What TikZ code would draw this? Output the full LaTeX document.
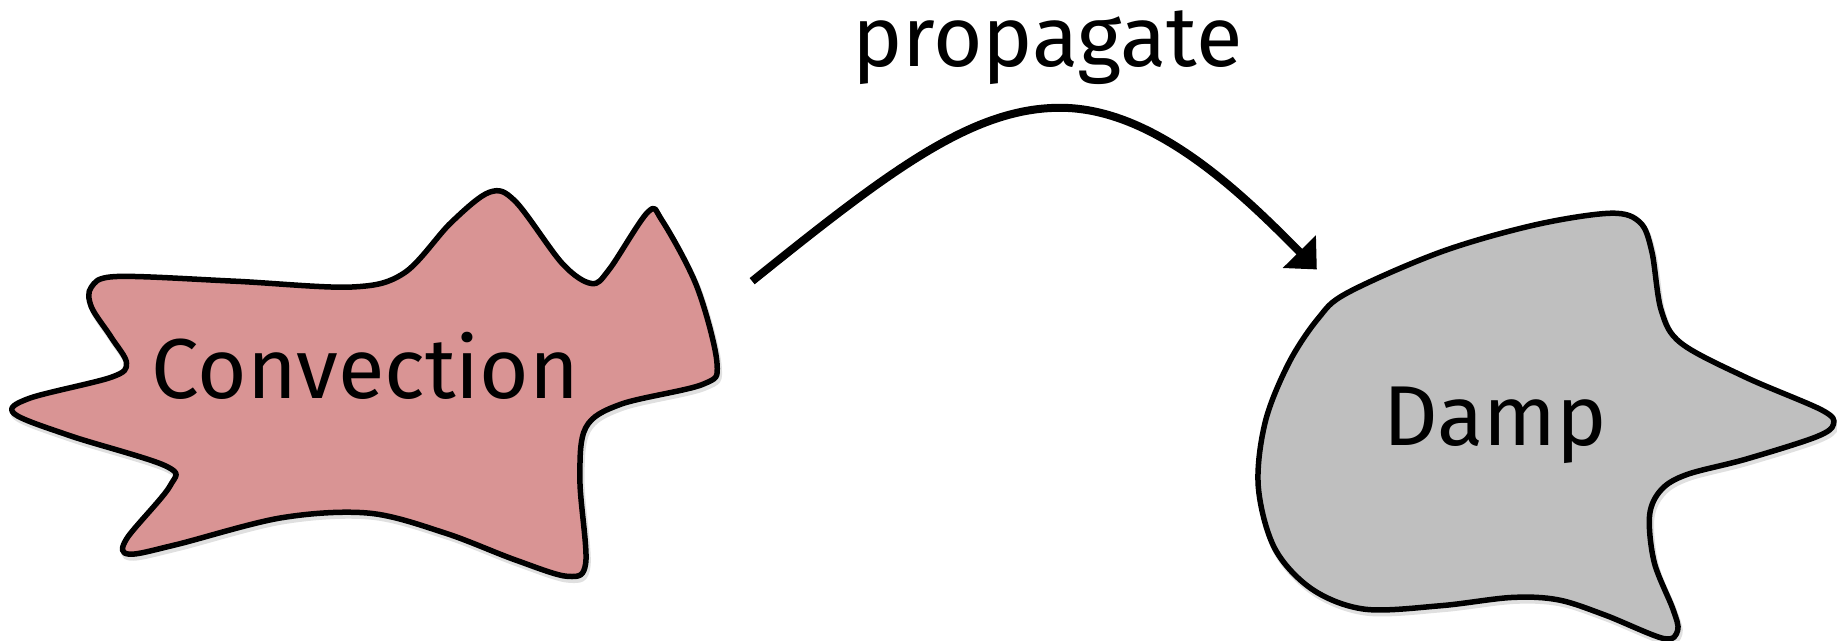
\documentclass[tikz,border=0pt]{standalone}
\usepackage{fontspec}
\setmainfont{Fira Sans}
\usetikzlibrary{arrows.meta}
\definecolor{convfill}{RGB}{217,148,148}
\definecolor{dampfill}{RGB}{191,191,191}
\newcommand\convblobpath[1]{\path[#1] plot[smooth cycle,tension=0.55] coordinates {
 (78,245) (100,236) (200,240) (300,245) (345,233) (385,190) (418,164)
 (440,172) (480,225) (505,242) (520,230) (553,181) (565,188) (595,245)
 (612,310) (600,328) (530,345) (500,365) (495,410) (500,480) (485,492)
 (440,478) (380,455) (315,438) (240,442) (150,465) (110,473) (108,460)
 (145,415) (142,398) (60,372) (12,353) (25,340) (95,322) (108,310)
 (95,288) (78,262)};}
\newcommand\dampblobpath[1]{\path[#1] plot[smooth cycle,tension=0.55] coordinates {
 (1150,250) (1230,215) (1310,192) (1375,182) (1400,190) (1410,215)
 (1418,265) (1435,293) (1490,322) (1555,350) (1565,362) (1550,373)
 (1490,392) (1440,405) (1418,418) (1408,440) (1412,480) (1428,520)
 (1432,538) (1420,545) (1370,525) (1330,512) (1290,510) (1230,517)
 (1165,520) (1120,503) (1088,468) (1074,415) (1080,360) (1100,310)
 (1125,272)};}
\begin{document}
\begin{tikzpicture}[x=1.1716pt,y=-1.1716pt,
  blob/.style={draw=black,line width=5.5pt,line join=round},
  blobshadow/.style={draw=black,line width=6pt,opacity=0.12,shift={(1.5,3)}},
  lbltext/.style={font=\fontsize{85}{95}\selectfont,inner sep=0pt,anchor=base},
  flow/.style={line width=8pt,-{Triangle[length=25pt,width=45pt]}}]
\useasboundingbox (0,0) rectangle (1568,547);
\convblobpath{blobshadow}
\dampblobpath{blobshadow}
\convblobpath{blob,fill=convfill}
\dampblobpath{blob,fill=dampfill}
\node[lbltext] (conv) at (312,340) {Convection};
\node[lbltext] (damp) at (1276,380) {Damp};
\node[lbltext] (lbl) at (894,57) {propagate};
\coordinate (a0) at (642,240);
\coordinate (apex) at (905,92);
\coordinate (a1) at (1124,230);
\draw[flow] (a0) .. controls (760,145) and (830,92) .. (apex)
  .. controls (985,92) and (1060,165) .. (a1);
\end{tikzpicture}
\end{document}
